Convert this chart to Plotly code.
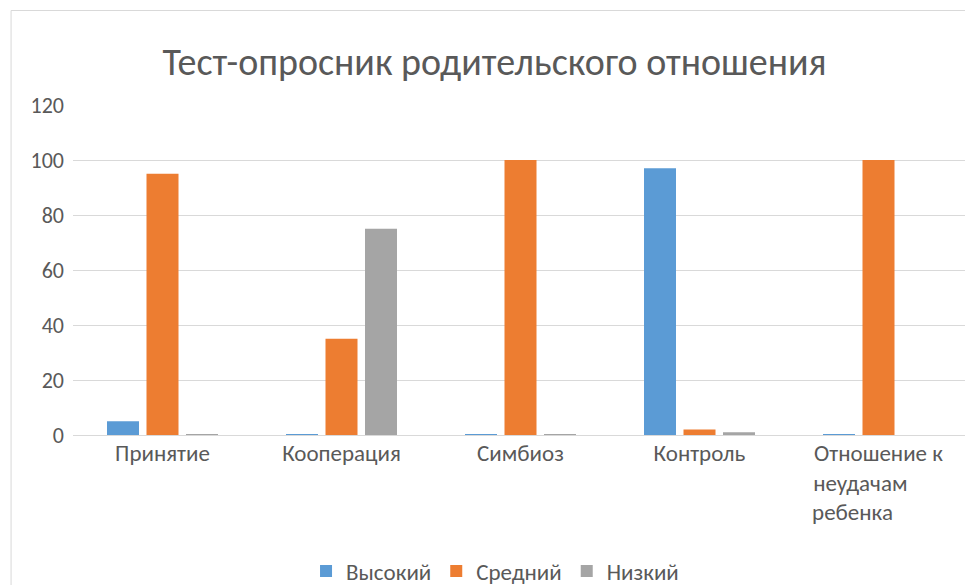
import plotly.graph_objects as go

NB = "\u00a0"
categories = ["Принятие", "Кооперация", "Симбиоз", "Контроль", "Отношение к неудачам ребенка"]
tick_labels = ["Принятие", "Кооперация", "Симбиоз", "Контроль",
               "Отношение к<br>неудачам" + NB * 7 + "<br>ребенка" + NB * 10]
series_names = ["Высокий", "Средний", "Низкий"]
vals_high = [5, 0.3, 0.3, 97, 0.3]
vals_mid = [95, 35, 100, 2, 100]
vals_low = [0.3, 75, 0.3, 1, 0]
colors = ["#5B9BD5", "#ED7D31", "#A5A5A5"]
y_ticks = [0, 20, 40, 60, 80, 100, 120]

FONT = "Carlito, Liberation Sans, Arial, sans-serif"
TXT = "#595959"

fig = go.Figure()
for name, vals, col in zip(series_names, [vals_high, vals_mid, vals_low], colors):
    fig.add_trace(go.Bar(name=name, x=categories, y=vals, marker=dict(color=col, line=dict(width=0))))

# page has an 8px body margin; figure coordinates = page pixels - 8
OFF = 8
W, H = 973, 585
ml = 72.5 - OFF
mt = 105 - OFF
plot_right = 968.5 - OFF
plot_bottom = 435 - OFF
mr = W - plot_right
mb = H - plot_bottom
pw, ph = W - ml - mr, H - mt - mb

def px2paper_x(px):
    return (px - OFF - ml) / pw

def px2paper_y(py):
    return (plot_bottom - (py - OFF)) / ph

fig.update_layout(
    width=W, height=H,
    margin=dict(l=ml, r=mr, t=mt, b=mb, pad=0, autoexpand=False),
    paper_bgcolor="white", plot_bgcolor="white",
    barmode="group", bargap=0.338, bargroupgap=0.19,
    font=dict(family=FONT, color=TXT, size=22),
    title=dict(text="Тест-опросник родительского отношения", x=(494.5 - OFF) / W, xref="container", xanchor="center",
               y=1 - (62 - OFF) / H, yanchor="middle",
               font=dict(size=38, color=TXT, family=FONT)),
    showlegend=True,
    legend=dict(orientation="h", x=px2paper_x(495), xanchor="center", y=px2paper_y(571), yanchor="middle",
                yref="paper", font=dict(size=23, color=TXT), itemwidth=30, traceorder="normal"),
    xaxis=dict(tickmode="array", tickvals=categories, ticktext=tick_labels, showgrid=False, automargin=False,
               showline=True, linecolor="#D9D9D9", linewidth=1, ticks="", ticklabelstandoff=-3,
               tickfont=dict(size=23, color=TXT)),
    yaxis=dict(range=[0, 120], tickvals=y_ticks, showgrid=True, gridcolor="#D9D9D9", gridwidth=1, automargin=False,
               zeroline=False, showline=False, ticks="", ticklabelstandoff=8,
               tickfont=dict(size=22, color=TXT)),
    shapes=[dict(type="rect", xref="paper", yref="paper",
                 x0=px2paper_x(10.5), x1=px2paper_x(990), y0=px2paper_y(600), y1=px2paper_y(10.5),
                 line=dict(color="#D9D9D9", width=1), fillcolor="rgba(0,0,0,0)", layer="below")],
)

fig.write_html("out.html")
